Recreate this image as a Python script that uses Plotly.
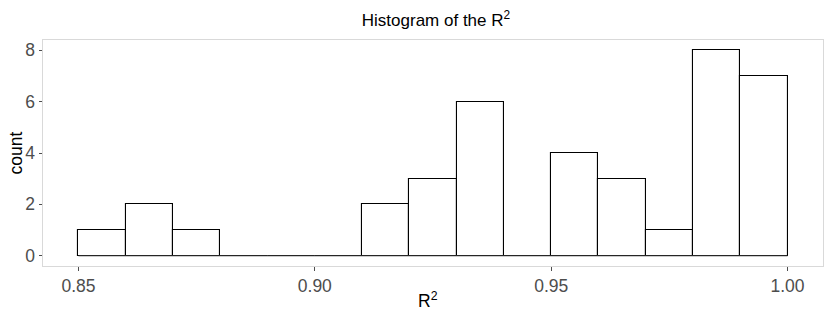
import plotly.graph_objects as go

bin_edges = [0.85, 0.86, 0.87, 0.88, 0.89, 0.90, 0.91, 0.92, 0.93, 0.94, 0.95, 0.96, 0.97, 0.98, 0.99, 1.00]
counts = [1, 2, 1, 0, 0, 0, 2, 3, 6, 0, 4, 3, 1, 8, 7]
x_ticks = [0.85, 0.90, 0.95, 1.00]
x_tick_labels = ["0.85", "0.90", "0.95", "1.00"]
y_ticks = [0, 2, 4, 6, 8]

centers = [(a + b) / 2 for a, b in zip(bin_edges[:-1], bin_edges[1:])]
widths = [b - a for a, b in zip(bin_edges[:-1], bin_edges[1:])]

W, H = 830, 316
L, R, T, B = 42.5, 7.3, 39.5, 50
pw, ph = W - L - R, H - T - B

fig = go.Figure()
fig.add_trace(go.Bar(
    x=centers, y=counts, width=widths,
    marker=dict(color="white", line=dict(color="black", width=1.1)),
    hoverinfo="x+y", showlegend=False,
))
# baseline for empty bins (as drawn by zero-height bars)
fig.add_trace(go.Scatter(
    x=[bin_edges[0], bin_edges[-1]], y=[0, 0], mode="lines",
    line=dict(color="#333333", width=1.1), showlegend=False, hoverinfo="skip",
))

font = "Liberation Sans, Arial, sans-serif"
fig.update_layout(
    width=W, height=H,
    margin=dict(l=L, r=R, t=T, b=B),
    paper_bgcolor="white", plot_bgcolor="white",
    font=dict(family=font, color="black"),
    title=dict(text="Histogram of the R<sup>2</sup>", x=436 / W, xanchor="center",
               y=1 - 20 / H, yanchor="middle", font=dict(size=17, color="black")),
    bargap=0,
    annotations=[
        dict(text="R<sup>2</sup>", xref="paper", yref="paper",
             x=(428 - L) / pw, y=-(300 - (T + ph)) / ph,
             xanchor="center", yanchor="middle", showarrow=False,
             font=dict(size=17.5, color="black")),
        dict(text="count", xref="paper", yref="paper",
             x=-(L - 15) / pw, y=0.5, textangle=-90,
             xanchor="center", yanchor="middle", showarrow=False,
             font=dict(size=17.5, color="black")),
    ],
)
fig.update_xaxes(
    range=[0.8425, 1.0075], tickvals=x_ticks, ticktext=x_tick_labels,
    showgrid=False, zeroline=False, automargin=False,
    showline=True, mirror=True, linecolor="#D9D9D9", linewidth=1,
    ticks="outside", ticklen=3.5, tickcolor="#4D4D4D", tickwidth=1,
    tickfont=dict(size=17.5, color="#4D4D4D"),
)
fig.update_yaxes(
    range=[-0.4, 8.4], tickvals=y_ticks,
    showgrid=False, zeroline=False, automargin=False,
    showline=True, mirror=True, linecolor="#D9D9D9", linewidth=1,
    ticks="outside", ticklen=3.5, tickcolor="#4D4D4D", tickwidth=1,
    tickfont=dict(size=17.5, color="#4D4D4D"),
)

fig.write_html(
    "out.html",
    config={"displayModeBar": False},
    post_script="document.body.style.margin='0';document.body.style.padding='0';document.body.style.overflow='hidden';",
)
